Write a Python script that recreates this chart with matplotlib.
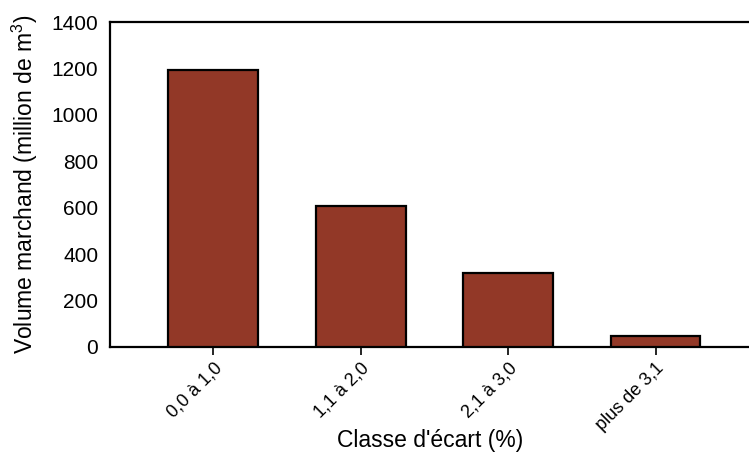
import matplotlib
matplotlib.use("Agg")
import matplotlib.pyplot as plt

categories = ["0,0 à 1,0", "1,1 à 2,0", "2,1 à 3,0", "plus de 3,1"]
values = [1195, 607, 318, 47]
yticks = [0, 200, 400, 600, 800, 1000, 1200, 1400]

plt.rcParams['font.family'] = ['Liberation Sans', 'DejaVu Sans']
plt.rcParams['mathtext.fontset'] = 'custom'
plt.rcParams['mathtext.rm'] = 'Liberation Sans'

fig = plt.figure(figsize=(7.49, 4.55), dpi=100)
ax = fig.add_axes([110/749, 1-347/455, 1-110/749, (347-22)/455])

x = range(len(categories))
ax.bar(x, values, width=0.61, color="#923827", edgecolor="black", linewidth=1.6, zorder=3)

ax.set_xlim(-0.70, 3.634)
ax.set_ylim(0, 1400)
ax.set_yticks(yticks)
ax.set_yticklabels([str(v) for v in yticks], fontsize=15)
ax.set_xticks(list(x))
ax.set_xticklabels(categories, rotation=45, ha="right", rotation_mode="anchor", fontsize=13)
ax.tick_params(axis="y", length=0, pad=8.5)
ax.tick_params(axis="x", length=6, width=1.2, pad=3)

for s in ["left", "bottom", "top"]:
    ax.spines[s].set_linewidth(1.6)
ax.spines["right"].set_visible(False)

ax.set_ylabel("Volume marchand (million de m$^{\\mathrm{3}}$)", fontsize=16.5, labelpad=8)
fig.text(430/749, 1-440/455, "Classe d'écart (%)", fontsize=16.5, ha="center", va="center")

fig.savefig("out.png", dpi=100)
